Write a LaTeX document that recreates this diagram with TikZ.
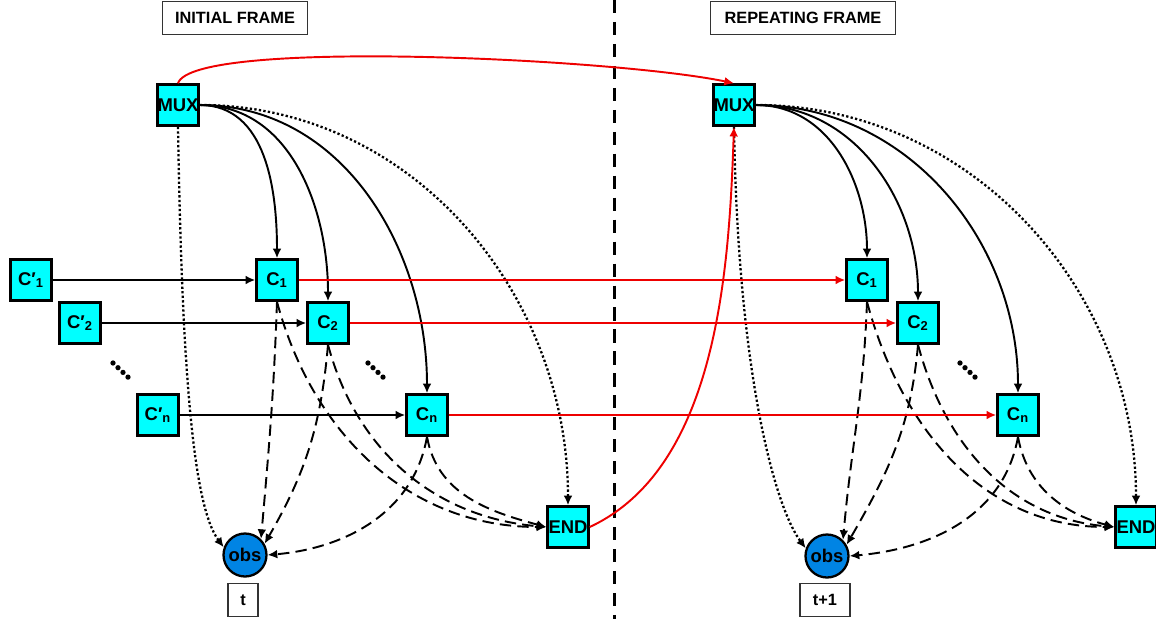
\documentclass[tikz,border=0pt]{standalone}
\usepackage{fontspec}
\setmainfont{Liberation Sans}
\usetikzlibrary{arrows.meta}

\definecolor{boxcyan}{RGB}{0,255,255}
\definecolor{obsblue}{RGB}{0,132,228}
\definecolor{linkred}{RGB}{238,0,0}

\tikzset{
  cbox/.style={draw, fill=boxcyan, line width=1.4pt, minimum size=0.82cm, inner sep=0pt,
    font=\bfseries\fontsize{10.5}{12}\selectfont},
  obsnode/.style={circle, draw, fill=obsblue, line width=1.3pt, minimum size=0.86cm, inner sep=0pt,
    font=\bfseries\fontsize{10.5}{12}\selectfont},
  tag/.style={draw=black!80, line width=0.7pt, minimum height=0.66cm, inner sep=0pt,
    font=\bfseries\fontsize{9.3}{11}\selectfont},
  link/.style={line width=1.1pt, -{Latex[length=5.5pt,width=5pt]}},
  redlink/.style={link, draw=linkred},
  dashlink/.style={link, dash pattern=on 6.5pt off 3.5pt},
  dotlink/.style={link, line width=1.3pt, dash pattern=on 1.3pt off 1.3pt},
}

\begin{document}
\begin{tikzpicture}[x=0.02cm, y=-0.02cm]
  \useasboundingbox (0,0) rectangle (1156,619);

  % Frame split
  \draw[line width=1.7pt, dash pattern=on 7.5pt off 5pt] (614,0) -- (614,619);

  % Initial frame
  \node[tag, minimum width=2.9cm] (lblA) at (235,18) {INITIAL FRAME};
  \node[cbox] (muxA) at (178,105) {MUX};
  \node[cbox] (cpA1) at (31,280) {C′\textsubscript{1}};
  \node[cbox] (cpA2) at (80,323) {C′\textsubscript{2}};
  \node[cbox] (cpAn) at (158,415) {C′\textsubscript{n}};
  \node[cbox] (cA1) at (277,280) {C\textsubscript{1}};
  \node[cbox] (cA2) at (328,323) {C\textsubscript{2}};
  \node[cbox] (cAn) at (427,415) {C\textsubscript{n}};
  \node[cbox] (endA) at (568,527) {END};
  \node[obsnode] (obsA) at (245,555) {obs};
  \node[tag, minimum width=0.6cm] (tA) at (243,600) {t};

  % Repeating frame
  \node[tag, minimum width=3.7cm] (lblB) at (803,18) {REPEATING FRAME};
  \node[cbox] (muxB) at (734,105) {MUX};
  \node[cbox] (cB1) at (867,280) {C\textsubscript{1}};
  \node[cbox] (cB2) at (918,323) {C\textsubscript{2}};
  \node[cbox] (cBn) at (1018,415) {C\textsubscript{n}};
  \node[cbox] (endB) at (1136,527) {END};
  \node[obsnode] (obsB) at (827,556) {obs};
  \node[tag, minimum width=1cm] (tB) at (825,600) {t+1};

  % Skipped rows
  \foreach \dx/\dy in {113/363, 368/363, 960/363}
    \foreach \k in {0,1,2,3}
      \fill (\dx+5*\k, \dy+4.7*\k) circle (1.5pt);

  % Inputs of the first frame
  \draw[link] (cpA1.east) -- (cA1.west);
  \draw[link] (cpA2.east) -- (cA2.west);
  \draw[link] (cpAn.east) -- (cAn.west);

  % MUX fan-out, both frames
  \foreach \f in {A,B} {
    \draw[link] (mux\f.east) to[out=0,in=90] (c\f1.north);
    \draw[link] (mux\f.east) to[out=0,in=90] (c\f2.north);
    \draw[link] (mux\f.east) to[out=0,in=90] (c\f n.north);
    \draw[dotlink] (mux\f.east) to[out=0,in=90] (end\f.north);
    \draw[dotlink] (mux\f.south) .. controls +(4,250) and +(-30,-40) .. (obs\f.160);
    % C -> obs and END
    \draw[dashlink] (c\f1.south) to[out=-92,in=85] (obs\f.45);
    \draw[dashlink] (c\f2.south) to[out=-95,in=60] (obs\f.30);
    \draw[dashlink] (c\f n.south) to[out=-100,in=5] (obs\f.east);
    \draw[dashlink] (c\f1.south) to[out=-75,in=180] (end\f.west);
    \draw[dashlink] (c\f2.south) to[out=-75,in=175] (end\f.west);
    \draw[dashlink] (c\f n.south) to[out=-80,in=165] (end\f.west);
  }

  % Links between frames
  \draw[redlink] (cA1.east) -- (cB1.west);
  \draw[redlink] (cA2.east) -- (cB2.west);
  \draw[redlink] (cAn.east) -- (cBn.west);
  \draw[redlink] (muxA.north) .. controls +(15,-45) and +(-120,-25) .. (muxB.north);
  \draw[redlink] (endA.east) to[out=25,in=-92,looseness=0.85] (muxB.south);
\end{tikzpicture}
\end{document}
